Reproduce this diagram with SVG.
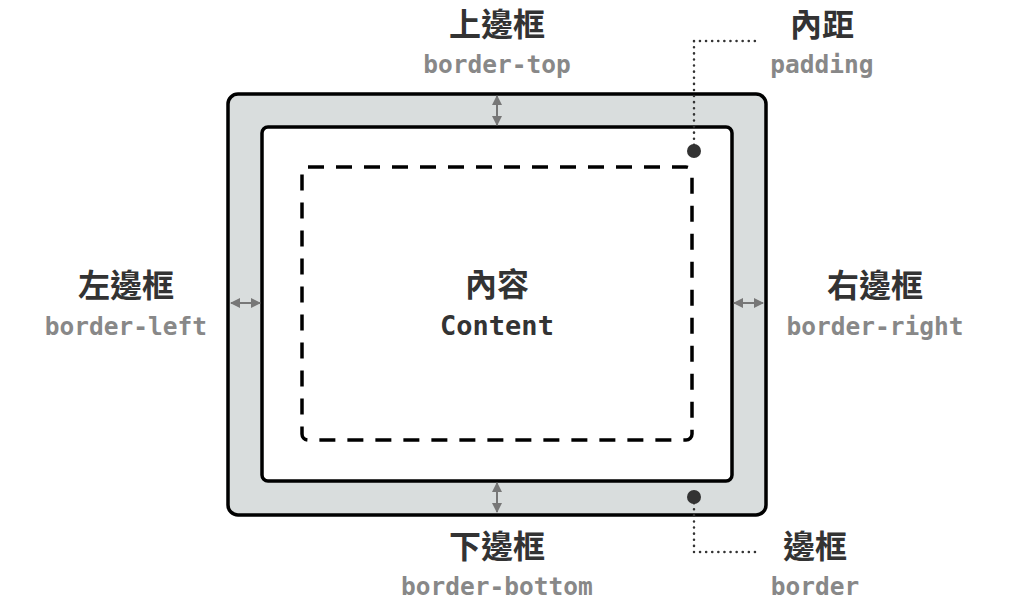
<svg xmlns="http://www.w3.org/2000/svg" width="1009" height="606" viewBox="0 0 1009 606">
<style>
.t{font-family:"Noto Sans CJK TC","Noto Sans CJK SC",sans-serif;font-weight:700;font-size:32px;fill:#333;text-anchor:middle}
.s{font-family:"DejaVu Sans Mono","Liberation Mono",monospace;font-weight:700;font-size:24.5px;fill:#888;text-anchor:middle}
.c{font-family:"DejaVu Sans Mono","Liberation Mono",monospace;font-weight:700;font-size:27px;fill:#333;text-anchor:middle}
.a{stroke:#777;stroke-width:2;fill:none;marker-start:url(#h);marker-end:url(#h)}
.d{stroke:#333;stroke-width:2.5;stroke-dasharray:0.1 6;stroke-linecap:round;fill:none}
</style>
<defs><marker id="h" viewBox="0 0 10 10" refX="9" refY="5" markerWidth="5" markerHeight="5" orient="auto-start-reverse"><path d="M0,0L10,5L0,10z" fill="#777"/></marker></defs>
<g id="border"><rect x="228" y="94" width="538" height="421" rx="10" fill="#d9dddd" stroke="#000" stroke-width="3.5"/></g>
<g id="padding"><rect x="262" y="127" width="470" height="354" rx="6" fill="#fff" stroke="#000" stroke-width="3.5"/></g>
<g id="content"><rect x="302" y="167" width="390" height="273" rx="6" fill="none" stroke="#000" stroke-width="3.5" stroke-dasharray="16 12"/>
<text class="t" x="497" y="296">內容</text><text class="c" x="497" y="335">Content</text></g>
<g id="connectors">
<line class="a" x1="497" y1="96" x2="497" y2="125"/>
<line class="a" x1="497" y1="483" x2="497" y2="512"/>
<line class="a" x1="231" y1="303" x2="260" y2="303"/>
<line class="a" x1="734" y1="303" x2="763" y2="303"/>
<path class="d" d="M694,151V41H757"/>
<path class="d" d="M694,497V552H757"/>
<circle cx="694" cy="151" r="7" fill="#333"/>
<circle cx="694" cy="497" r="7" fill="#333"/>
</g>
<g id="label-top"><text class="t" x="497" y="36">上邊框</text><text class="s" x="497" y="73">border-top</text></g>
<g id="label-bottom"><text class="t" x="497" y="558">下邊框</text><text class="s" x="497" y="595">border-bottom</text></g>
<g id="label-left"><text class="t" x="126" y="297">左邊框</text><text class="s" x="126" y="335">border-left</text></g>
<g id="label-right"><text class="t" x="875" y="297">右邊框</text><text class="s" x="875" y="335">border-right</text></g>
<g id="label-padding"><text class="t" x="822" y="36">內距</text><text class="s" x="822" y="73">padding</text></g>
<g id="label-border"><text class="t" x="815" y="558">邊框</text><text class="s" x="815" y="595">border</text></g>
</svg>
